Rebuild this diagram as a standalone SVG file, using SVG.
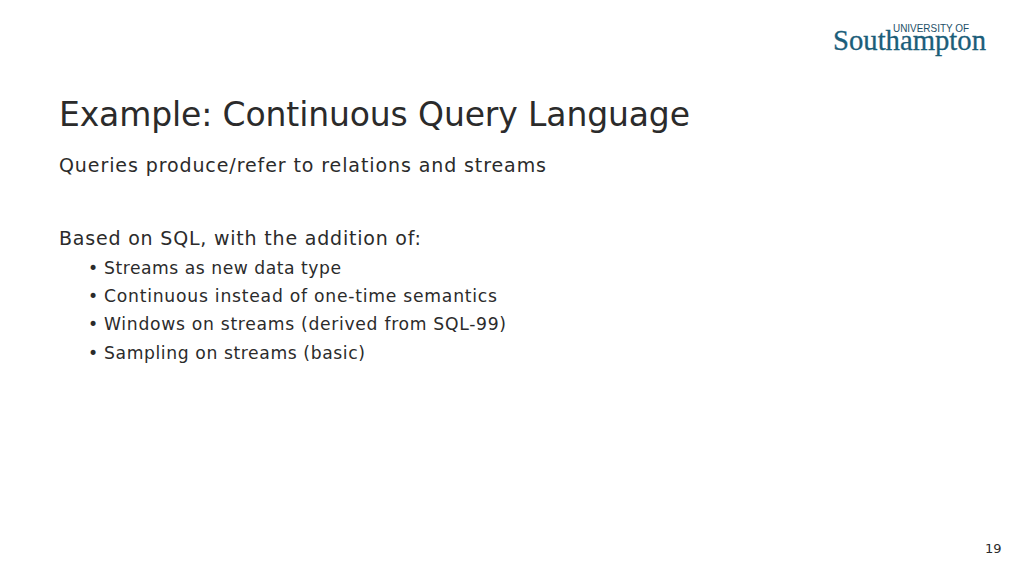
<svg xmlns="http://www.w3.org/2000/svg" width="1024" height="576" viewBox="0 0 1024 576">
<style>
text{font-family:"DejaVu Sans","Noto Sans",sans-serif;fill:#2b2b2b}
.b{font-size:19px}
.s{font-size:17.2px}
.l1{font-family:"Liberation Sans",sans-serif;fill:#1d5068;font-size:10.5px}
.l2{font-family:"Liberation Serif",serif;fill:#1b5e7a;font-size:29px;stroke:#1b5e7a;stroke-width:.3px}
</style>
<rect width="1024" height="576" fill="#fff"/>
<text x="59" y="126" font-size="33" textLength="631" lengthAdjust="spacing">Example: Continuous Query Language</text>
<text class="b" x="59" y="172" textLength="487" lengthAdjust="spacing">Queries produce/refer to relations and streams</text>
<text class="b" x="59" y="245" textLength="362" lengthAdjust="spacing">Based on SQL, with the addition of:</text>
<text class="s" x="88" y="274">•</text><text class="s" x="104" y="274" textLength="237" lengthAdjust="spacing">Streams as new data type</text>
<text class="s" x="88" y="302">•</text><text class="s" x="104" y="302" textLength="393" lengthAdjust="spacing">Continuous instead of one-time semantics</text>
<text class="s" x="88" y="330">•</text><text class="s" x="104" y="330" textLength="402" lengthAdjust="spacing">Windows on streams (derived from SQL-99)</text>
<text class="s" x="88" y="359">•</text><text class="s" x="104" y="359" textLength="261" lengthAdjust="spacing">Sampling on streams (basic)</text>
<text x="985" y="553" font-size="13">19</text>
<text class="l1" x="893" y="32" textLength="76" lengthAdjust="spacingAndGlyphs">UNIVERSITY OF</text>
<text class="l2" x="833" y="49.5" textLength="153" lengthAdjust="spacingAndGlyphs">Southampton</text>
</svg>
